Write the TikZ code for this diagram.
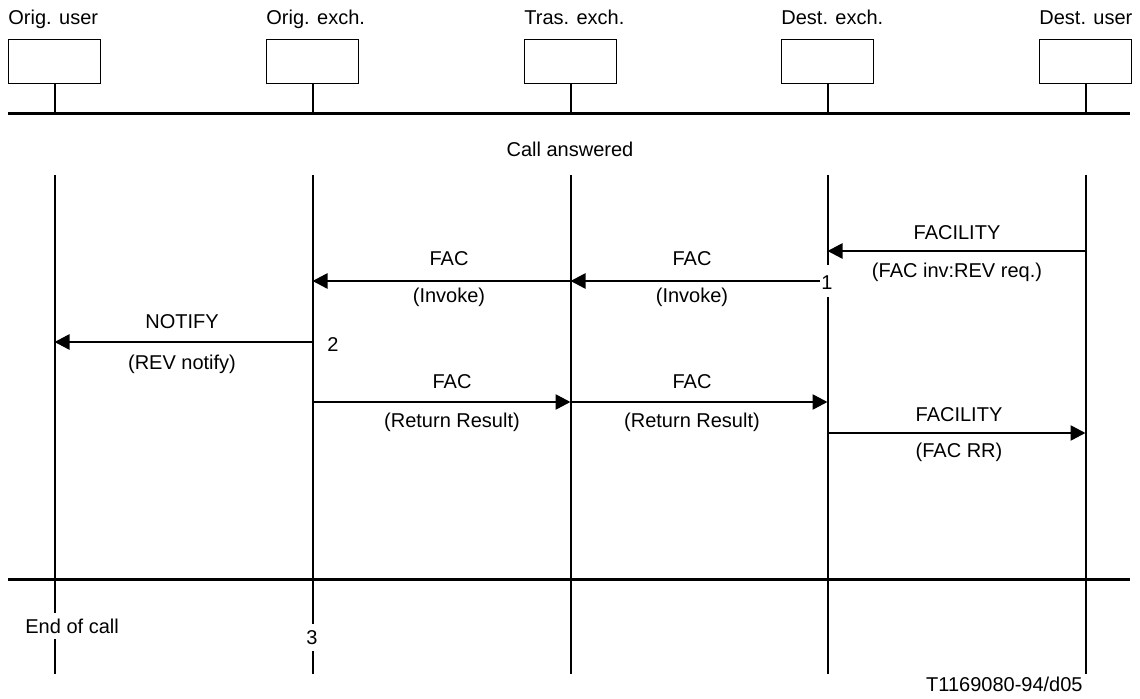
\documentclass[tikz,border=0pt]{standalone}
\usepackage{fontspec}
\setmainfont{Liberation Sans}
\usetikzlibrary{arrows.meta}
\begin{document}
\begin{tikzpicture}[x=0.5pt,y=-0.5pt,
  entity/.style={draw,line width=0.5pt,minimum width=46pt,minimum height=22pt,inner sep=0pt,anchor=north west},
  life/.style={line width=1pt},
  rule/.style={line width=1.5pt},
  msg/.style={line width=1.3pt,-{Triangle[length=7.5pt,width=7.5pt]}},
  lbl/.style={font=\fontsize{10}{12}\selectfont,inner sep=0pt,anchor=base},
  head/.style={lbl,anchor=base west}]
\useasboundingbox (0,0) rectangle (1140,699);

% entities
\node[entity] (ou) at (8,39) {};
\node[entity] (oe) at (266,39) {};
\node[entity] (te) at (524,39) {};
\node[entity] (de) at (781,39) {};
\node[entity] (du) at (1039,39) {};
\node[head] (ouL) at (8,25) {Orig. user};
\node[head] (oeL) at (266,25) {Orig. exch.};
\node[head] (teL) at (524,25) {Tras. exch.};
\node[head] (deL) at (781,25) {Dest. exch.};
\node[head] (duL) at (1039,25) {Dest. user};

% horizontal rules
\coordinate (r1a) at (8,114);  \coordinate (r1b) at (1130,114);
\coordinate (r2a) at (8,580);  \coordinate (r2b) at (1130,580);
\draw[rule] (r1a) -- (r1b);
\draw[rule] (r2a) -- (r2b);

% stubs from boxes to the top rule
\foreach \n in {ou,oe,te,de,du}
  \draw[life] (\n.south) -- (\n.south |- r1a);

\node[lbl] (ans) at (570,157) {Call answered};

% lifelines
\foreach \n in {ou,oe,te,de,du}
  \coordinate (\n-top) at (\n.south |- 0,175);
\foreach \n in {ou,oe,te,de,du}
  \coordinate (\n-bot) at (\n.south |- 0,674);
\draw[life] (ou-top) -- (ou.south |- 0,613);
\draw[life] (ou.south |- 0,639) -- (ou-bot);
\draw[life] (oe-top) -- (oe.south |- 0,624);
\draw[life] (oe.south |- 0,651) -- (oe-bot);
\draw[life] (te-top) -- (te-bot);
\draw[life] (de-top) -- (de.south |- 0,265);
\draw[life] (de.south |- 0,297) -- (de-bot);
\draw[life] (du-top) -- (du-bot);

% markers on lifelines
\node[lbl] (n1) at (827,290) {1};
\node[lbl,anchor=base west] (n2) at (327,352) {2};
\node[lbl] (n3) at (312,644) {3};
\node[lbl,anchor=base west] (eoc) at (25,633) {End of call};

% messages
\coordinate (a1s) at (du.south |- 0,251);  \coordinate (a1e) at (de.south |- 0,251);
\draw[msg] (a1s) -- (a1e);
\node[lbl] at (957,240) {FACILITY};
\node[lbl] at (957,278) {(FAC inv:REV req.)};

\coordinate (a2s) at (820,281);  \coordinate (a2e) at (te.south |- 0,281);
\draw[msg] (a2s) -- (a2e);
\node[lbl] at (692,266) {FAC};
\node[lbl] at (692,303) {(Invoke)};

\coordinate (a3e) at (oe.south |- 0,281);
\draw[msg] (a2e) -- (a3e);
\node[lbl] at (449,266) {FAC};
\node[lbl] at (449,303) {(Invoke)};

\coordinate (a4s) at (oe.south |- 0,342);  \coordinate (a4e) at (ou.south |- 0,342);
\draw[msg] (a4s) -- (a4e);
\node[lbl] at (182,329) {NOTIFY};
\node[lbl] at (182,370) {(REV notify)};

\coordinate (a5s) at (oe.south |- 0,402);  \coordinate (a5e) at (te.south |- 0,402);
\draw[msg] (a5s) -- (a5e);
\node[lbl] at (452,389) {FAC};
\node[lbl] at (452,428) {(Return Result)};

\coordinate (a6e) at (de.south |- 0,402);
\draw[msg] (a5e) -- (a6e);
\node[lbl] at (692,389) {FAC};
\node[lbl] at (692,428) {(Return Result)};

\coordinate (a7s) at (de.south |- 0,433);  \coordinate (a7e) at (du.south |- 0,433);
\draw[msg] (a7s) -- (a7e);
\node[lbl] at (959,422) {FACILITY};
\node[lbl] at (959,458) {(FAC RR)};

\node[lbl,anchor=base east] (ref) at (1083,691) {T1169080-94/d05};
\end{tikzpicture}
\end{document}
